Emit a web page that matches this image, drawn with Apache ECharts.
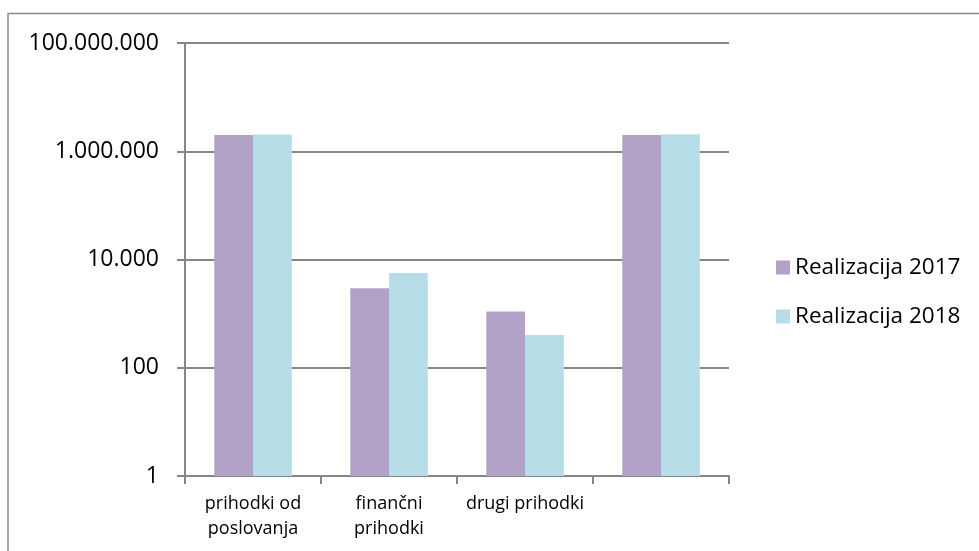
<!DOCTYPE html>
<html>
<head>
<meta charset="utf-8">
<script src="https://cdn.jsdelivr.net/npm/echarts@6/dist/echarts.min.js"></script>
<style>
html,body{margin:0;padding:0;background:#fff;}
#chart{width:979px;height:551px;}
</style>
</head>
<body>
<div id="chart"></div>
<script>
const categories = ['prihodki od\nposlovanja', 'finančni\nprihodki', 'drugi prihodki', ''];
const seriesNames = ['Realizacija 2017', 'Realizacija 2018'];
const values2017 = [1990000, 2940, 1090, 1995000];
const values2018 = [2050000, 5630, 403, 2056000];
const colors = ['#b3a2c7', '#b7dde8'];

function fmtThousands(v) {
  return String(Math.round(v)).replace(/\B(?=(\d{3})+(?!\d))/g, '.');
}

const chart = echarts.init(document.getElementById('chart'), null, {renderer: 'canvas'});
chart.setOption({
  animation: false,
  backgroundColor: '#ffffff',
  textStyle: {fontFamily: 'Open Sans'},
  graphic: [{
    type: 'rect',
    shape: {x: 8, y: 13.5, width: 1000, height: 600},
    style: {fill: 'none', stroke: '#888888', lineWidth: 1.5},
    silent: true
  }],
  grid: {left: 185, right: 250, top: 43, bottom: 75, containLabel: false},
  legend: {
    orient: 'vertical',
    left: 771,
    top: 251,
    itemWidth: 14,
    itemHeight: 14,
    itemGap: 26,
    icon: 'rect',
    data: seriesNames,
    textStyle: {fontFamily: 'Open Sans', fontSize: 22.5, lineHeight: 22, color: '#000'}
  },
  xAxis: {
    type: 'category',
    data: categories,
    boundaryGap: true,
    axisLine: {show: true, lineStyle: {color: '#878787', width: 2}},
    axisTick: {show: true, inside: false, length: 8, alignWithLabel: false, lineStyle: {color: '#878787', width: 2}},
    axisLabel: {interval: 0, margin: 15, fontFamily: 'Open Sans', fontSize: 18, lineHeight: 25, color: '#000'},
    splitLine: {show: false}
  },
  yAxis: {
    type: 'log',
    logBase: 100,
    min: 1,
    max: 100000000,
    axisLine: {show: true, lineStyle: {color: '#878787', width: 2}},
    axisTick: {show: true, inside: false, length: 8, lineStyle: {color: '#878787', width: 2}},
    minorTick: {show: false},
    axisLabel: {
      margin: 26,
      fontFamily: 'Open Sans',
      fontSize: 23,
      color: '#000',
      formatter: function (v) { return fmtThousands(v); }
    },
    splitLine: {show: true, lineStyle: {color: '#878787', width: 2}}
  },
  series: [
    {
      name: seriesNames[0],
      type: 'bar',
      data: values2017,
      itemStyle: {color: colors[0]},
      barGap: '0%',
      barCategoryGap: '43%'
    },
    {
      name: seriesNames[1],
      type: 'bar',
      data: values2018,
      itemStyle: {color: colors[1]},
      barGap: '0%',
      barCategoryGap: '43%'
    }
  ]
});
</script>
</body>
</html>
